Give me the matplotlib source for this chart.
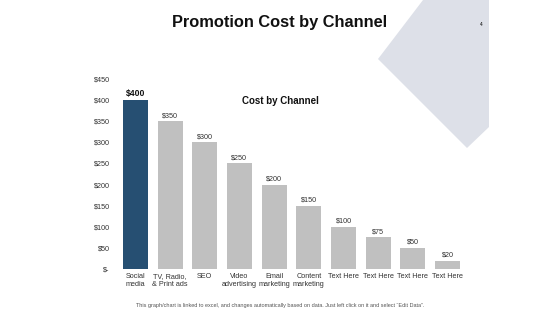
import matplotlib.pyplot as plt
from matplotlib.patches import Polygon

plt.rcParams['font.family'] = ['Liberation Sans', 'DejaVu Sans']

channels = ['Social\nmedia', 'TV, Radio,\n& Print ads', 'SEO', 'Video\nadvertising',
            'Email\nmarketing', 'Content\nmarketing', 'Text Here', 'Text Here',
            'Text Here', 'Text Here']
costs = [400, 350, 300, 250, 200, 150, 100, 75, 50, 20]
yticks = [0, 50, 100, 150, 200, 250, 300, 350, 400, 450]
ytick_labels = ['$-', '$50', '$100', '$150', '$200', '$250', '$300', '$350', '$400', '$450']

fig = plt.figure(figsize=(5.6, 3.15), dpi=100)

# decorative grey shape at the top right
W, H = 560, 315
pts = [(423, 0), (489, 0), (489, 127), (467, 148), (378, 59)]
shape = Polygon([(x / W, 1 - y / H) for x, y in pts], closed=True,
                transform=fig.transFigure, facecolor='#dde0e8', edgecolor='none', zorder=0)
fig.patches.append(shape)

fig.text(280 / W, 1 - 22 / H, 'Promotion Cost by Channel', ha='center', va='center',
         fontsize=11.8, fontweight='bold', color='#111111')
fig.text(481 / W, 1 - 24 / H, '4', ha='center', va='center', fontsize=3.5)

ax = fig.add_axes([118 / W, 1 - 269 / H, (465 - 118) / W, (269 - 79) / H])
ax.patch.set_alpha(0)
x = range(len(costs))
colors = ['#264f72'] + ['#c0c0c0'] * (len(costs) - 1)
ax.bar(x, costs, width=0.72, color=colors)
for i, v in enumerate(costs):
    if i == 0:
        ax.text(i, v + 5, f'${v}', ha='center', va='bottom', fontsize=6.2,
                fontweight='bold', color='#111111')
    else:
        ax.text(i, v + 5, f'${v}', ha='center', va='bottom', fontsize=5.2, color='#333333')

ax.set_xlim(-0.5, len(costs) - 0.5)
ax.set_ylim(0, 450)
ax.set_yticks(yticks)
ax.set_yticklabels(ytick_labels, fontsize=5.2, color='#333333')
ax.set_xticks(list(x))
ax.set_xticklabels(channels, fontsize=5.2, color='#333333', linespacing=1.1)
ax.tick_params(length=0, pad=3)
ax.tick_params(axis='y', pad=6)
for s in ax.spines.values():
    s.set_visible(False)

ax.text(4.17, 398, 'Cost by Channel', ha='center', va='center', fontsize=7,
        fontweight='bold', color='#111111')

fig.text(0.5, 1 - 306 / H,
         'This graph/chart is linked to excel, and changes automatically based on data. '
         'Just left click on it and select \u201cEdit Data\u201d.',
         ha='center', va='center', fontsize=4.0, color='#555555')

fig.savefig('out.png', dpi=100)
